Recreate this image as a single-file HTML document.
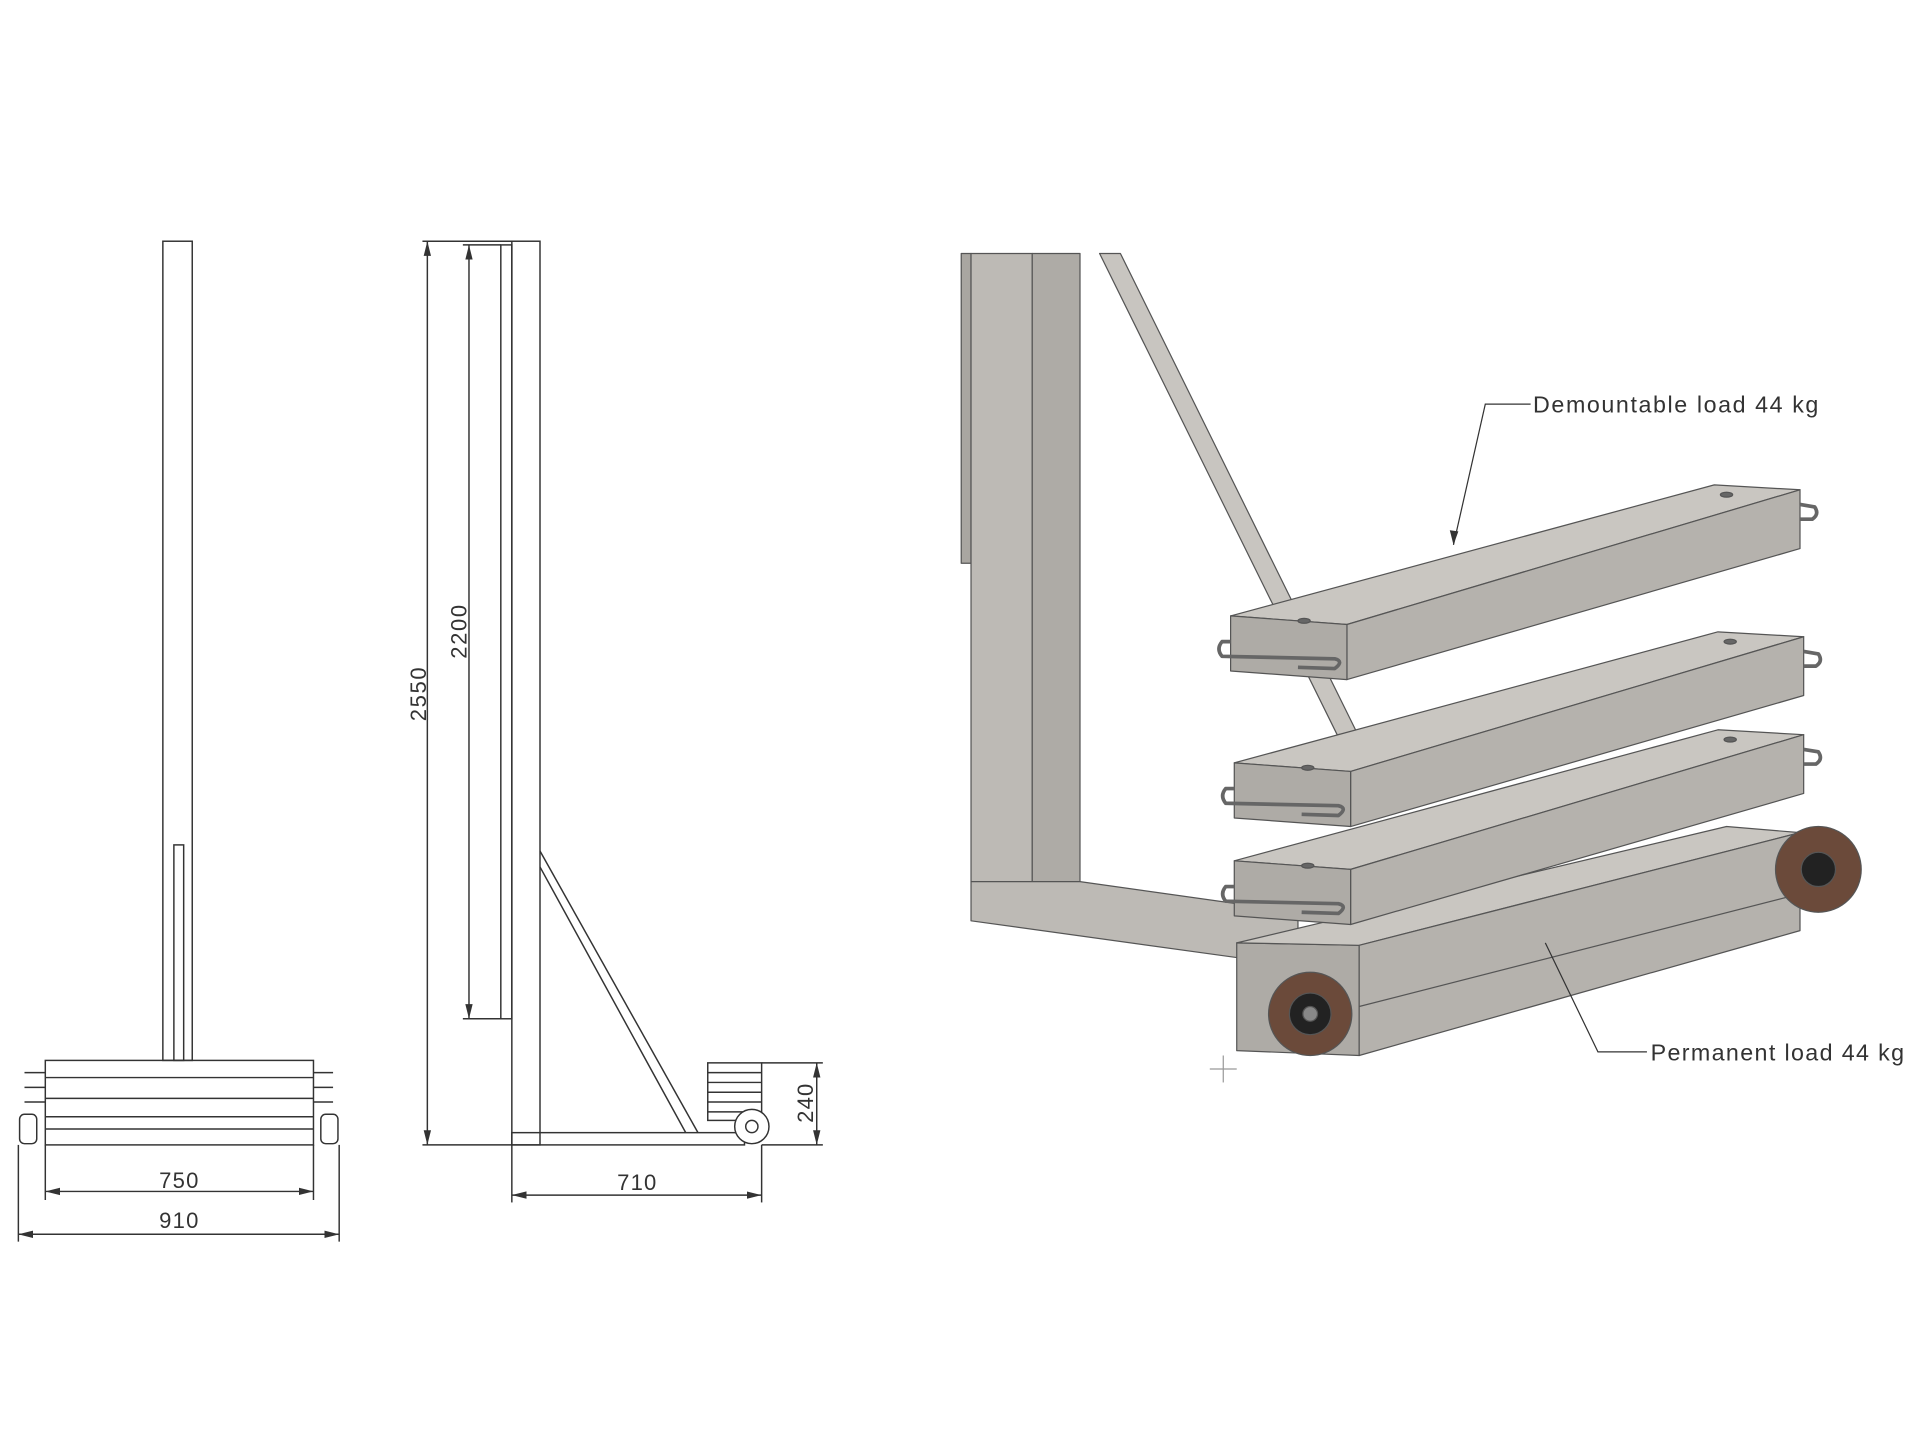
<!DOCTYPE html>
<html><head><meta charset="utf-8"><style>html,body{margin:0;padding:0;background:#fff}svg{display:block}</style></head>
<body>
<svg width="1920" height="1440" viewBox="0 0 1568 1176" xmlns="http://www.w3.org/2000/svg" font-family="Liberation Sans, sans-serif">
<defs>
<marker id="a" markerWidth="12" markerHeight="8" refX="12" refY="4" orient="auto-start-reverse" markerUnits="userSpaceOnUse"><path d="M0,1 L12,4 L0,7 z" fill="#333"/></marker>
</defs>
<rect width="1568" height="1176" fill="#fff"/>
<g fill="none" stroke="#333" stroke-width="1.2">
<rect x="133" y="197" width="24" height="669"/>
<rect x="142" y="690" width="8" height="176"/>
<rect x="37" y="866" width="219" height="69"/>
<line x1="37" y1="880" x2="256" y2="880"/><line x1="37" y1="897" x2="256" y2="897"/>
<line x1="37" y1="912" x2="256" y2="912"/><line x1="37" y1="922" x2="256" y2="922"/>
<line x1="20" y1="876" x2="37" y2="876"/><line x1="20" y1="888" x2="37" y2="888"/><line x1="20" y1="900" x2="37" y2="900"/>
<line x1="256" y1="876" x2="272" y2="876"/><line x1="256" y1="888" x2="272" y2="888"/><line x1="256" y1="900" x2="272" y2="900"/>
<rect x="16" y="910" width="14" height="24" rx="4"/><rect x="262" y="910" width="14" height="24" rx="4"/>
<line x1="37" y1="935" x2="37" y2="980"/><line x1="256" y1="935" x2="256" y2="980"/>
<line x1="15" y1="935" x2="15" y2="1014"/><line x1="277" y1="935" x2="277" y2="1014"/>
<line x1="37" y1="973" x2="256" y2="973" marker-start="url(#a)" marker-end="url(#a)"/>
<line x1="15" y1="1008" x2="277" y2="1008" marker-start="url(#a)" marker-end="url(#a)"/>
<rect x="418" y="197" width="23" height="738"/>
<rect x="409" y="200" width="9" height="632"/>
<rect x="418" y="925" width="190" height="10"/>
<line x1="441" y1="695" x2="570" y2="925"/><line x1="441" y1="708" x2="560" y2="925"/>
<rect x="578" y="868" width="44" height="47"/>
<line x1="578" y1="876" x2="622" y2="876"/><line x1="578" y1="884" x2="622" y2="884"/><line x1="578" y1="892" x2="622" y2="892"/><line x1="578" y1="900" x2="622" y2="900"/><line x1="578" y1="908" x2="622" y2="908"/>
<circle cx="614" cy="920" r="14" fill="#fff"/><circle cx="614" cy="920" r="5"/>
<line x1="345" y1="197" x2="418" y2="197"/><line x1="345" y1="935" x2="418" y2="935"/>
<line x1="378" y1="200" x2="409" y2="200"/><line x1="378" y1="832" x2="409" y2="832"/>
<line x1="349" y1="197" x2="349" y2="935" marker-start="url(#a)" marker-end="url(#a)"/>
<line x1="383" y1="200" x2="383" y2="832" marker-start="url(#a)" marker-end="url(#a)"/>
<line x1="418" y1="935" x2="418" y2="982"/><line x1="622" y1="935" x2="622" y2="982"/>
<line x1="418" y1="976" x2="622" y2="976" marker-start="url(#a)" marker-end="url(#a)"/>
<line x1="622" y1="868" x2="672" y2="868"/><line x1="622" y1="935" x2="672" y2="935"/>
<line x1="667" y1="868" x2="667" y2="935" marker-start="url(#a)" marker-end="url(#a)"/>
</g>
<g fill="#333" font-size="18">
<text x="130" y="970" textLength="32">750</text>
<text x="130" y="1003" textLength="32">910</text>
<text x="504" y="972" textLength="32">710</text>
<text transform="translate(348,589) rotate(-90)" textLength="44">2550</text>
<text transform="translate(381,538) rotate(-90)" textLength="44">2200</text>
<text transform="translate(664,917) rotate(-90)" textLength="32">240</text>
</g>
<g stroke="#555" stroke-width="1" stroke-linejoin="round">
<polygon points="898,207 915,207 1108,598 1092,600" fill="#c8c5c0"/>
<polygon points="785,207 793,207 793,460 785,460" fill="#a9a6a1"/>
<polygon points="793,207 843,207 843,720 793,720" fill="#bdbab5"/>
<polygon points="843,207 882,207 882,720 843,720" fill="#aeaba6"/>
<polygon points="793,720 882,720 1060,745 1060,768 1010,782 793,752" fill="#bdbab5"/>
<polygon points="1010,770 1110,772 1110,862 1010,858" fill="#aeaba6"/>
<polygon points="1010,770 1410,675 1470,680 1110,772" fill="#c9c6c1"/>
<polygon points="1110,772 1470,680 1470,760 1110,862" fill="#b5b2ad"/>
<line x1="1110" y1="822" x2="1470" y2="730"/>
<circle cx="1485" cy="710" r="35" fill="#6b4a3a"/><circle cx="1485" cy="710" r="14" fill="#222"/>
<circle cx="1070" cy="828" r="34" fill="#6b4a3a"/><circle cx="1070" cy="828" r="17" fill="#222"/><circle cx="1070" cy="828" r="6" fill="#888"/>
<g id="b">
<polygon points="1005,503 1400,396 1470,400 1100,510" fill="#c9c6c1"/>
<polygon points="1100,510 1470,400 1470,448 1100,555" fill="#b5b2ad"/>
<polygon points="1005,503 1100,510 1100,555 1005,548" fill="#aeaba6"/>
<path d="M1005,524 L998,524 Q993,530 998,536 L1090,538 Q1098,540 1090,546 L1060,545" fill="none" stroke="#666" stroke-width="3"/>
<path d="M1470,412 L1482,414 Q1486,420 1480,424 L1470,424" fill="none" stroke="#666" stroke-width="3"/>
<ellipse cx="1065" cy="507" rx="5" ry="2" fill="#666"/><ellipse cx="1410" cy="404" rx="5" ry="2" fill="#666"/>
</g>
<use href="#b" transform="translate(3,120)"/>
<use href="#b" transform="translate(3,200)"/>
</g>
<line x1="988" y1="873" x2="1010" y2="873" stroke="#999"/><line x1="999" y1="862" x2="999" y2="884" stroke="#999"/>
<g stroke="#333" stroke-width="1" fill="none">
<polyline points="1250,330 1213,330 1187,445"/>
<polyline points="1345,859 1305,859 1262,770"/>
</g>
<polygon points="1187,445 1184,433 1191,434" fill="#333"/>
<g fill="#333" font-size="19">
<text x="1252" y="337" textLength="233">Demountable load 44 kg</text>
<text x="1348" y="866" textLength="207">Permanent load 44 kg</text>
</g>
</svg>
</body></html>
